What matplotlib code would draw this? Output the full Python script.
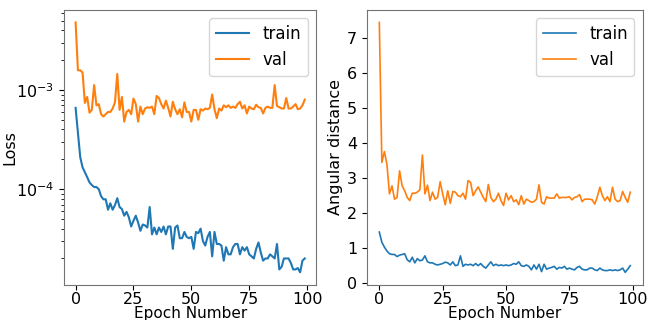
import numpy as np
import matplotlib
matplotlib.use('Agg')
import matplotlib.pyplot as plt

# Epochs
epochs = np.arange(100)

# Loss (log scale) - train and validation
loss_train = np.array([
    6.6, 3.7, 2.1, 1.66, 1.48, 1.32, 1.17, 1.10, 1.05, 1.05,
    1.00, 0.85, 0.79, 0.79, 0.62, 0.72, 0.62, 0.69, 0.81, 0.66,
    0.63, 0.54, 0.59, 0.52, 0.42, 0.48, 0.54, 0.46, 0.38, 0.44,
    0.43, 0.41, 0.66, 0.35, 0.41, 0.35, 0.41, 0.37, 0.42, 0.35,
    0.42, 0.42, 0.25, 0.41, 0.43, 0.32, 0.32, 0.37, 0.33, 0.32,
    0.33, 0.25, 0.37, 0.36, 0.40, 0.30, 0.27, 0.33, 0.37, 0.21,
    0.37, 0.28, 0.28, 0.27, 0.19, 0.26, 0.22, 0.22, 0.26, 0.28,
    0.28, 0.22, 0.26, 0.24, 0.26, 0.22, 0.21, 0.20, 0.25, 0.29,
    0.23, 0.19, 0.20, 0.20, 0.22, 0.21, 0.20, 0.28, 0.155, 0.165,
    0.20, 0.20, 0.20, 0.18, 0.155, 0.155, 0.16, 0.145, 0.19, 0.20]) * 1e-4

loss_val = np.array([
    4.8, 1.58, 1.58, 1.50, 0.74, 0.85, 0.59, 0.63, 1.12, 0.70,
    0.72, 0.57, 0.54, 0.57, 0.60, 0.60, 0.65, 0.75, 1.45, 0.63,
    0.85, 0.48, 0.60, 0.63, 0.57, 0.82, 0.72, 0.48, 0.68, 0.57,
    0.65, 0.67, 0.66, 0.68, 0.57, 0.87, 0.83, 0.72, 0.65, 0.78,
    0.66, 0.54, 0.76, 0.64, 0.57, 0.64, 0.53, 0.75, 0.60, 0.60,
    0.48, 0.63, 0.63, 0.50, 0.64, 0.62, 0.65, 0.64, 0.66, 0.90,
    0.64, 0.52, 0.65, 0.62, 0.70, 0.67, 0.70, 0.66, 0.68, 0.66,
    0.72, 0.76, 0.65, 0.70, 0.58, 0.68, 0.65, 0.64, 0.71, 0.67,
    0.66, 0.58, 0.66, 0.68, 0.66, 0.66, 1.12, 0.69, 0.67, 0.65,
    0.65, 0.83, 0.65, 0.65, 0.68, 0.72, 0.64, 0.65, 0.70, 0.80]) * 1e-3

# Angular distance - train and validation
ang_train = np.array([
    1.46, 1.17, 1.03, 0.92, 0.84, 0.82, 0.82, 0.76, 0.80, 0.82,
    0.84, 0.67, 0.61, 0.74, 0.58, 0.70, 0.64, 0.66, 0.78, 0.61,
    0.58, 0.58, 0.54, 0.52, 0.54, 0.56, 0.60, 0.58, 0.52, 0.61,
    0.50, 0.52, 0.78, 0.48, 0.54, 0.52, 0.54, 0.50, 0.56, 0.50,
    0.56, 0.48, 0.43, 0.52, 0.61, 0.50, 0.54, 0.50, 0.52, 0.50,
    0.52, 0.50, 0.52, 0.56, 0.54, 0.61, 0.50, 0.48, 0.52, 0.48,
    0.38, 0.52, 0.40, 0.54, 0.33, 0.54, 0.40, 0.43, 0.45, 0.48,
    0.40, 0.45, 0.43, 0.48, 0.40, 0.43, 0.40, 0.38, 0.45, 0.48,
    0.40, 0.38, 0.38, 0.43, 0.43, 0.38, 0.36, 0.43, 0.38, 0.36,
    0.36, 0.38, 0.36, 0.38, 0.36, 0.38, 0.43, 0.31, 0.40, 0.50])

ang_val = np.array([
    7.45, 3.45, 3.76, 3.40, 2.55, 2.78, 2.40, 2.45, 3.21, 2.78,
    2.64, 2.45, 2.36, 2.57, 2.57, 2.60, 2.67, 3.66, 2.55, 2.80,
    2.36, 2.60, 2.40, 2.45, 2.90, 2.55, 2.24, 2.64, 2.28, 2.62,
    2.60, 2.50, 2.47, 2.57, 2.40, 2.93, 2.88, 2.50, 2.64, 2.75,
    2.60, 2.45, 2.33, 2.82, 2.45, 2.33, 2.40, 2.57, 2.36, 2.22,
    2.57, 2.38, 2.50, 2.33, 2.38, 2.24, 2.50, 2.26, 2.40, 2.36,
    2.31, 2.33, 2.40, 2.81, 2.31, 2.26, 2.47, 2.43, 2.43, 2.43,
    2.55, 2.43, 2.45, 2.45, 2.45, 2.47, 2.38, 2.45, 2.47, 2.53,
    2.33, 2.40, 2.40, 2.40, 2.38, 2.26, 2.47, 2.74, 2.50, 2.36,
    2.47, 2.33, 2.74, 2.40, 2.33, 2.36, 2.62, 2.45, 2.31, 2.60])

plt.rcParams['font.size'] = 11.5

fig = plt.figure(figsize=(6.48, 3.2), dpi=100)
ax1 = fig.add_axes([0.099, 0.11, 0.389, 0.859])
ax2 = fig.add_axes([0.566, 0.11, 0.426, 0.859])

# Left panel: loss on log scale
ax1.plot(epochs, loss_train, label='train')
ax1.plot(epochs, loss_val, label='val')
ax1.set_yscale('log')
ax1.set_xlabel('Epoch Number', labelpad=-1, fontsize=11)
ax1.set_ylabel('Loss')
ax1.yaxis.set_label_coords(-0.185, 0.5)
ax1.set_xticks([0, 25, 50, 75, 100])
ax1.legend(loc='upper right', fontsize=12)

# Right panel: angular distance
ax2.plot(epochs, ang_train, label='train', linewidth=1.2)
ax2.plot(epochs, ang_val, label='val', linewidth=1.2)
ax2.set_xlabel('Epoch Number', labelpad=-1, fontsize=11)
ax2.set_ylabel('Angular distance')
ax2.yaxis.set_label_coords(-0.085, 0.5)
ax2.set_xticks([0, 25, 50, 75, 100])
ax2.set_yticks(range(8))
ax2.legend(loc='upper right', fontsize=12)

for ax in (ax1, ax2):
    ax.tick_params(axis='x', pad=2)
    for s in ax.spines.values():
        s.set_edgecolor('0.45')

plt.savefig('out.png', dpi=100)
